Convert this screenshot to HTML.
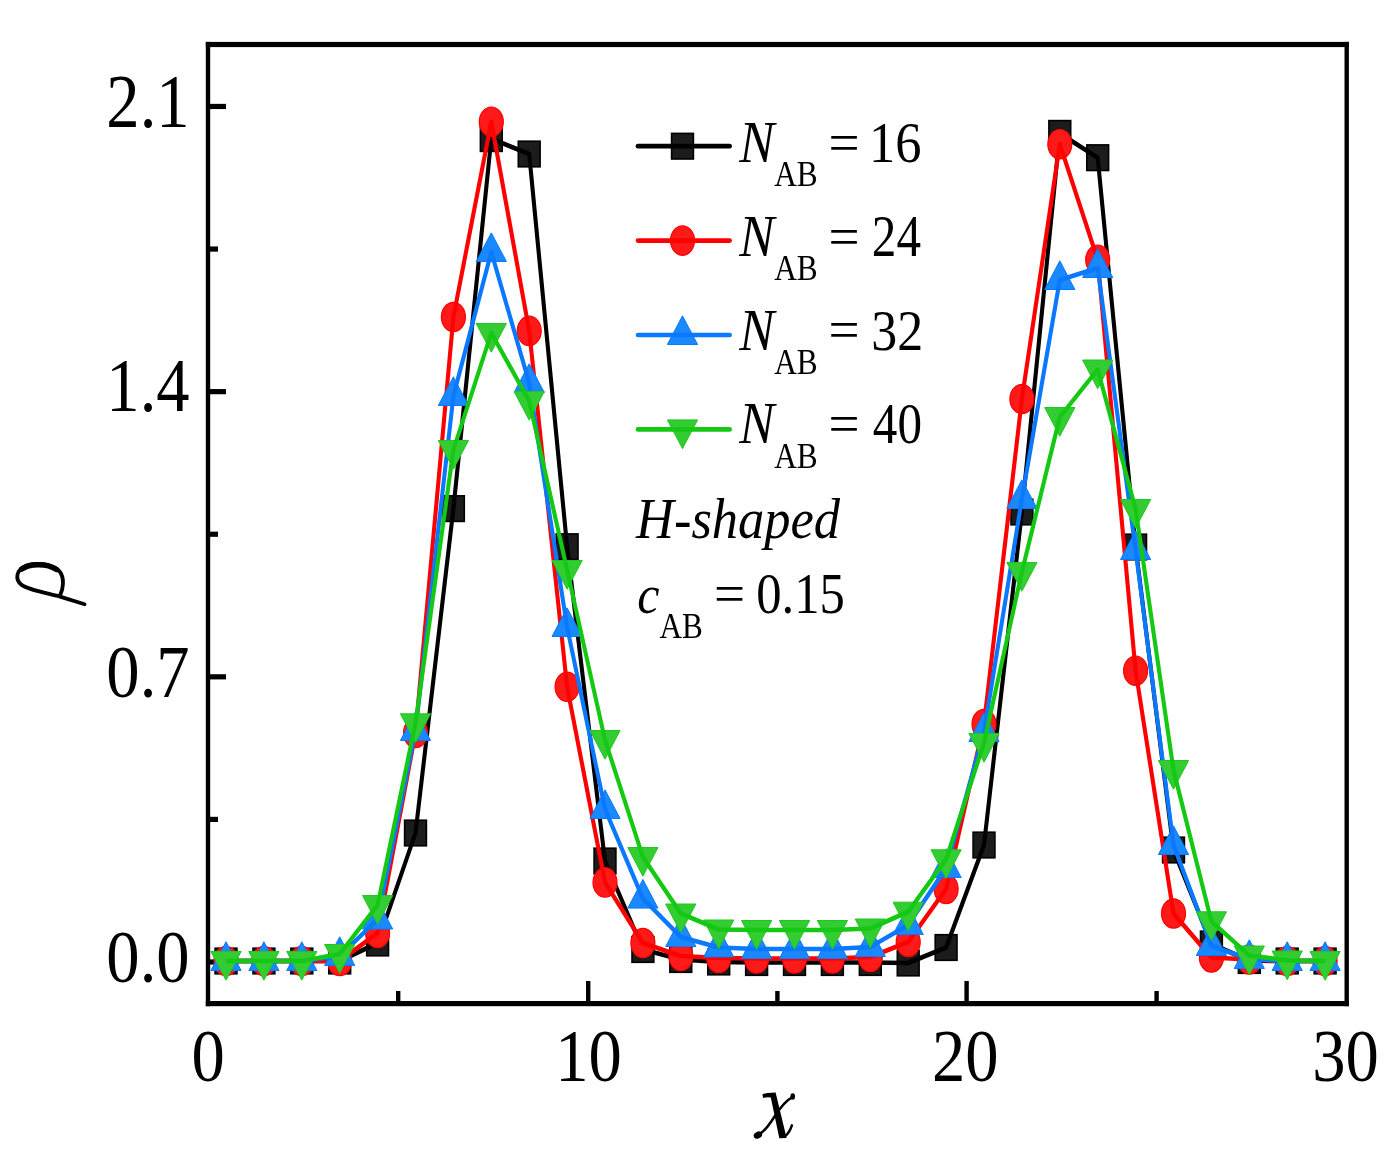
<!DOCTYPE html><html><head><meta charset="utf-8"><style>html,body{margin:0;padding:0;background:#fff;}svg{display:block;will-change:transform;}text{font-family:"Liberation Serif",serif;fill:#000;}</style></head><body>
<svg width="1390" height="1156" viewBox="0 0 1390 1156">
<rect width="1390" height="1156" fill="#fff"/>
<g fill="#000">
<rect x="205.8" y="41.9" width="1143.1" height="5.2"/>
<rect x="205.8" y="1001" width="1143.1" height="5.2"/>
<rect x="205.8" y="41.9" width="4.4" height="964.3"/>
<rect x="1344.5" y="41.9" width="4.4" height="964.3"/>
<rect x="208" y="959.4" width="18" height="5.2"/>
<rect x="208" y="674.22" width="18" height="5.2"/>
<rect x="208" y="389.04" width="18" height="5.2"/>
<rect x="208" y="103.86" width="18" height="5.2"/>
<rect x="208" y="816.81" width="10" height="5.2"/>
<rect x="208" y="531.63" width="10" height="5.2"/>
<rect x="208" y="246.45" width="10" height="5.2"/>
<rect x="586" y="981" width="4.4" height="22.6"/>
<rect x="964.4" y="981" width="4.4" height="22.6"/>
<rect x="396" y="991" width="4.4" height="12.6"/>
<rect x="775.2" y="991" width="4.4" height="12.6"/>
<rect x="1154.4" y="991" width="4.4" height="12.6"/>
</g>
<g>
<rect x="215.1" y="948.2" width="21.8" height="25.6" fill="#1c1c1c" stroke="#000000" stroke-width="1.6"/><rect x="253" y="948.2" width="21.8" height="25.6" fill="#1c1c1c" stroke="#000000" stroke-width="1.6"/><rect x="290.9" y="948.2" width="21.8" height="25.6" fill="#1c1c1c" stroke="#000000" stroke-width="1.6"/><rect x="328.8" y="948.2" width="21.8" height="25.6" fill="#1c1c1c" stroke="#000000" stroke-width="1.6"/><rect x="366.7" y="930.2" width="21.8" height="25.6" fill="#1c1c1c" stroke="#000000" stroke-width="1.6"/><rect x="404.6" y="820.2" width="21.8" height="25.6" fill="#1c1c1c" stroke="#000000" stroke-width="1.6"/><rect x="442.5" y="495.8" width="21.8" height="25.6" fill="#1c1c1c" stroke="#000000" stroke-width="1.6"/><rect x="480.4" y="125.8" width="21.8" height="25.6" fill="#1c1c1c" stroke="#000000" stroke-width="1.6"/><rect x="518.3" y="141.2" width="21.8" height="25.6" fill="#1c1c1c" stroke="#000000" stroke-width="1.6"/><rect x="556.2" y="533.9" width="21.8" height="25.6" fill="#1c1c1c" stroke="#000000" stroke-width="1.6"/><rect x="594.1" y="848.2" width="21.8" height="25.6" fill="#1c1c1c" stroke="#000000" stroke-width="1.6"/><rect x="632" y="936.7" width="21.8" height="25.6" fill="#1c1c1c" stroke="#000000" stroke-width="1.6"/><rect x="669.9" y="946.7" width="21.8" height="25.6" fill="#1c1c1c" stroke="#000000" stroke-width="1.6"/><rect x="707.8" y="949.2" width="21.8" height="25.6" fill="#1c1c1c" stroke="#000000" stroke-width="1.6"/><rect x="745.7" y="949.7" width="21.8" height="25.6" fill="#1c1c1c" stroke="#000000" stroke-width="1.6"/><rect x="783.6" y="949.7" width="21.8" height="25.6" fill="#1c1c1c" stroke="#000000" stroke-width="1.6"/><rect x="821.5" y="949.7" width="21.8" height="25.6" fill="#1c1c1c" stroke="#000000" stroke-width="1.6"/><rect x="859.4" y="949.7" width="21.8" height="25.6" fill="#1c1c1c" stroke="#000000" stroke-width="1.6"/><rect x="897.3" y="950.2" width="21.8" height="25.6" fill="#1c1c1c" stroke="#000000" stroke-width="1.6"/><rect x="935.2" y="934.7" width="21.8" height="25.6" fill="#1c1c1c" stroke="#000000" stroke-width="1.6"/><rect x="973.1" y="832.2" width="21.8" height="25.6" fill="#1c1c1c" stroke="#000000" stroke-width="1.6"/><rect x="1011" y="499.2" width="21.8" height="25.6" fill="#1c1c1c" stroke="#000000" stroke-width="1.6"/><rect x="1048.9" y="120.6" width="21.8" height="25.6" fill="#1c1c1c" stroke="#000000" stroke-width="1.6"/><rect x="1086.8" y="144.9" width="21.8" height="25.6" fill="#1c1c1c" stroke="#000000" stroke-width="1.6"/><rect x="1124.7" y="534.2" width="21.8" height="25.6" fill="#1c1c1c" stroke="#000000" stroke-width="1.6"/><rect x="1162.6" y="837.2" width="21.8" height="25.6" fill="#1c1c1c" stroke="#000000" stroke-width="1.6"/><rect x="1200.5" y="931.2" width="21.8" height="25.6" fill="#1c1c1c" stroke="#000000" stroke-width="1.6"/><rect x="1238.4" y="947.7" width="21.8" height="25.6" fill="#1c1c1c" stroke="#000000" stroke-width="1.6"/><rect x="1276.3" y="948.2" width="21.8" height="25.6" fill="#1c1c1c" stroke="#000000" stroke-width="1.6"/><rect x="1314.2" y="948.2" width="21.8" height="25.6" fill="#1c1c1c" stroke="#000000" stroke-width="1.6"/>
<polyline transform="scale(1 1.15)" points="226,835.65 263.9,835.65 301.8,835.65 339.7,835.65 377.6,820 415.5,724.35 453.4,442.26 491.3,120.52 529.2,133.91 567.1,475.39 605,748.7 642.9,825.65 680.8,834.35 718.7,836.52 756.6,836.96 794.5,836.96 832.4,836.96 870.3,836.96 908.2,837.39 946.1,823.91 984,734.78 1021.9,445.22 1059.8,116 1097.7,137.13 1135.6,475.65 1173.5,739.13 1211.4,820.87 1249.3,835.22 1287.2,835.65 1325.1,835.65" fill="none" stroke="#000000" stroke-width="4.1" stroke-linejoin="round"/>

<ellipse cx="226" cy="961" rx="12" ry="14.7" fill="#ff1a1a" stroke="#ff0000" stroke-width="1.2"/><ellipse cx="263.9" cy="961" rx="12" ry="14.7" fill="#ff1a1a" stroke="#ff0000" stroke-width="1.2"/><ellipse cx="301.8" cy="961" rx="12" ry="14.7" fill="#ff1a1a" stroke="#ff0000" stroke-width="1.2"/><ellipse cx="339.7" cy="961" rx="12" ry="14.7" fill="#ff1a1a" stroke="#ff0000" stroke-width="1.2"/><ellipse cx="377.6" cy="933" rx="12" ry="14.7" fill="#ff1a1a" stroke="#ff0000" stroke-width="1.2"/><ellipse cx="415.5" cy="733" rx="12" ry="14.7" fill="#ff1a1a" stroke="#ff0000" stroke-width="1.2"/><ellipse cx="453.4" cy="317" rx="12" ry="14.7" fill="#ff1a1a" stroke="#ff0000" stroke-width="1.2"/><ellipse cx="491.3" cy="121.7" rx="12" ry="14.7" fill="#ff1a1a" stroke="#ff0000" stroke-width="1.2"/><ellipse cx="529.2" cy="330.9" rx="12" ry="14.7" fill="#ff1a1a" stroke="#ff0000" stroke-width="1.2"/><ellipse cx="567.1" cy="686.8" rx="12" ry="14.7" fill="#ff1a1a" stroke="#ff0000" stroke-width="1.2"/><ellipse cx="605" cy="882.4" rx="12" ry="14.7" fill="#ff1a1a" stroke="#ff0000" stroke-width="1.2"/><ellipse cx="642.9" cy="943" rx="12" ry="14.7" fill="#ff1a1a" stroke="#ff0000" stroke-width="1.2"/><ellipse cx="680.8" cy="956" rx="12" ry="14.7" fill="#ff1a1a" stroke="#ff0000" stroke-width="1.2"/><ellipse cx="718.7" cy="958" rx="12" ry="14.7" fill="#ff1a1a" stroke="#ff0000" stroke-width="1.2"/><ellipse cx="756.6" cy="958.5" rx="12" ry="14.7" fill="#ff1a1a" stroke="#ff0000" stroke-width="1.2"/><ellipse cx="794.5" cy="958.5" rx="12" ry="14.7" fill="#ff1a1a" stroke="#ff0000" stroke-width="1.2"/><ellipse cx="832.4" cy="958.5" rx="12" ry="14.7" fill="#ff1a1a" stroke="#ff0000" stroke-width="1.2"/><ellipse cx="870.3" cy="957" rx="12" ry="14.7" fill="#ff1a1a" stroke="#ff0000" stroke-width="1.2"/><ellipse cx="908.2" cy="942" rx="12" ry="14.7" fill="#ff1a1a" stroke="#ff0000" stroke-width="1.2"/><ellipse cx="946.1" cy="889" rx="12" ry="14.7" fill="#ff1a1a" stroke="#ff0000" stroke-width="1.2"/><ellipse cx="984" cy="724" rx="12" ry="14.7" fill="#ff1a1a" stroke="#ff0000" stroke-width="1.2"/><ellipse cx="1021.9" cy="399" rx="12" ry="14.7" fill="#ff1a1a" stroke="#ff0000" stroke-width="1.2"/><ellipse cx="1059.8" cy="144.2" rx="12" ry="14.7" fill="#ff1a1a" stroke="#ff0000" stroke-width="1.2"/><ellipse cx="1097.7" cy="259.7" rx="12" ry="14.7" fill="#ff1a1a" stroke="#ff0000" stroke-width="1.2"/><ellipse cx="1135.6" cy="670.7" rx="12" ry="14.7" fill="#ff1a1a" stroke="#ff0000" stroke-width="1.2"/><ellipse cx="1173.5" cy="913.5" rx="12" ry="14.7" fill="#ff1a1a" stroke="#ff0000" stroke-width="1.2"/><ellipse cx="1211.4" cy="957.5" rx="12" ry="14.7" fill="#ff1a1a" stroke="#ff0000" stroke-width="1.2"/><ellipse cx="1249.3" cy="959.5" rx="12" ry="14.7" fill="#ff1a1a" stroke="#ff0000" stroke-width="1.2"/><ellipse cx="1287.2" cy="961" rx="12" ry="14.7" fill="#ff1a1a" stroke="#ff0000" stroke-width="1.2"/><ellipse cx="1325.1" cy="961" rx="12" ry="14.7" fill="#ff1a1a" stroke="#ff0000" stroke-width="1.2"/>
<polyline transform="scale(1 1.15)" points="226,835.65 263.9,835.65 301.8,835.65 339.7,835.65 377.6,811.3 415.5,637.39 453.4,275.65 491.3,105.83 529.2,287.74 567.1,597.22 605,767.3 642.9,820 680.8,831.3 718.7,833.04 756.6,833.48 794.5,833.48 832.4,833.48 870.3,832.17 908.2,819.13 946.1,773.04 984,629.57 1021.9,346.96 1059.8,125.39 1097.7,225.83 1135.6,583.22 1173.5,794.35 1211.4,832.61 1249.3,834.35 1287.2,835.65 1325.1,835.65" fill="none" stroke="#ff0000" stroke-width="4.1" stroke-linejoin="round"/>

<path d="M226 941.8L241.1 970.5L210.9 970.5Z" fill="#1a88ff" stroke="#0a78ff" stroke-width="1" stroke-linejoin="miter"/><path d="M263.9 941.8L279 970.5L248.8 970.5Z" fill="#1a88ff" stroke="#0a78ff" stroke-width="1" stroke-linejoin="miter"/><path d="M301.8 941.8L316.9 970.5L286.7 970.5Z" fill="#1a88ff" stroke="#0a78ff" stroke-width="1" stroke-linejoin="miter"/><path d="M339.7 936.8L354.8 965.5L324.6 965.5Z" fill="#1a88ff" stroke="#0a78ff" stroke-width="1" stroke-linejoin="miter"/><path d="M377.6 900.3L392.7 929L362.5 929Z" fill="#1a88ff" stroke="#0a78ff" stroke-width="1" stroke-linejoin="miter"/><path d="M415.5 711.8L430.6 740.5L400.4 740.5Z" fill="#1a88ff" stroke="#0a78ff" stroke-width="1" stroke-linejoin="miter"/><path d="M453.4 376.8L468.5 405.5L438.3 405.5Z" fill="#1a88ff" stroke="#0a78ff" stroke-width="1" stroke-linejoin="miter"/><path d="M491.3 232.8L506.4 261.5L476.2 261.5Z" fill="#1a88ff" stroke="#0a78ff" stroke-width="1" stroke-linejoin="miter"/><path d="M529.2 363.8L544.3 392.5L514.1 392.5Z" fill="#1a88ff" stroke="#0a78ff" stroke-width="1" stroke-linejoin="miter"/><path d="M567.1 607.8L582.2 636.5L552 636.5Z" fill="#1a88ff" stroke="#0a78ff" stroke-width="1" stroke-linejoin="miter"/><path d="M605 789.8L620.1 818.5L589.9 818.5Z" fill="#1a88ff" stroke="#0a78ff" stroke-width="1" stroke-linejoin="miter"/><path d="M642.9 879.4L658 908.1L627.8 908.1Z" fill="#1a88ff" stroke="#0a78ff" stroke-width="1" stroke-linejoin="miter"/><path d="M680.8 917.8L695.9 946.5L665.7 946.5Z" fill="#1a88ff" stroke="#0a78ff" stroke-width="1" stroke-linejoin="miter"/><path d="M718.7 928.3L733.8 957L703.6 957Z" fill="#1a88ff" stroke="#0a78ff" stroke-width="1" stroke-linejoin="miter"/><path d="M756.6 929.8L771.7 958.5L741.5 958.5Z" fill="#1a88ff" stroke="#0a78ff" stroke-width="1" stroke-linejoin="miter"/><path d="M794.5 929.8L809.6 958.5L779.4 958.5Z" fill="#1a88ff" stroke="#0a78ff" stroke-width="1" stroke-linejoin="miter"/><path d="M832.4 929.8L847.5 958.5L817.3 958.5Z" fill="#1a88ff" stroke="#0a78ff" stroke-width="1" stroke-linejoin="miter"/><path d="M870.3 927.8L885.4 956.5L855.2 956.5Z" fill="#1a88ff" stroke="#0a78ff" stroke-width="1" stroke-linejoin="miter"/><path d="M908.2 905.8L923.3 934.5L893.1 934.5Z" fill="#1a88ff" stroke="#0a78ff" stroke-width="1" stroke-linejoin="miter"/><path d="M946.1 848.8L961.2 877.5L931 877.5Z" fill="#1a88ff" stroke="#0a78ff" stroke-width="1" stroke-linejoin="miter"/><path d="M984 712.8L999.1 741.5L968.9 741.5Z" fill="#1a88ff" stroke="#0a78ff" stroke-width="1" stroke-linejoin="miter"/><path d="M1021.9 479.8L1037 508.5L1006.8 508.5Z" fill="#1a88ff" stroke="#0a78ff" stroke-width="1" stroke-linejoin="miter"/><path d="M1059.8 260.8L1074.9 289.5L1044.7 289.5Z" fill="#1a88ff" stroke="#0a78ff" stroke-width="1" stroke-linejoin="miter"/><path d="M1097.7 248.8L1112.8 277.5L1082.6 277.5Z" fill="#1a88ff" stroke="#0a78ff" stroke-width="1" stroke-linejoin="miter"/><path d="M1135.6 530.8L1150.7 559.5L1120.5 559.5Z" fill="#1a88ff" stroke="#0a78ff" stroke-width="1" stroke-linejoin="miter"/><path d="M1173.5 825.8L1188.6 854.5L1158.4 854.5Z" fill="#1a88ff" stroke="#0a78ff" stroke-width="1" stroke-linejoin="miter"/><path d="M1211.4 926.8L1226.5 955.5L1196.3 955.5Z" fill="#1a88ff" stroke="#0a78ff" stroke-width="1" stroke-linejoin="miter"/><path d="M1249.3 939.8L1264.4 968.5L1234.2 968.5Z" fill="#1a88ff" stroke="#0a78ff" stroke-width="1" stroke-linejoin="miter"/><path d="M1287.2 941.8L1302.3 970.5L1272.1 970.5Z" fill="#1a88ff" stroke="#0a78ff" stroke-width="1" stroke-linejoin="miter"/><path d="M1325.1 941.8L1340.2 970.5L1310 970.5Z" fill="#1a88ff" stroke="#0a78ff" stroke-width="1" stroke-linejoin="miter"/>
<polyline transform="scale(1 1.15)" points="226,835.65 263.9,835.65 301.8,835.65 339.7,831.3 377.6,799.57 415.5,635.65 453.4,344.35 491.3,219.13 529.2,333.04 567.1,545.22 605,703.48 642.9,781.39 680.8,814.78 718.7,823.91 756.6,825.22 794.5,825.22 832.4,825.22 870.3,823.48 908.2,804.35 946.1,754.78 984,636.52 1021.9,433.91 1059.8,243.48 1097.7,233.04 1135.6,478.26 1173.5,734.78 1211.4,822.61 1249.3,833.91 1287.2,835.65 1325.1,835.65" fill="none" stroke="#0a78ff" stroke-width="4.1" stroke-linejoin="round"/>

<path d="M210.9 951.5L241.1 951.5L226 980.2Z" fill="#33cc33" stroke="#1ec81e" stroke-width="1" stroke-linejoin="miter"/><path d="M248.8 951.5L279 951.5L263.9 980.2Z" fill="#33cc33" stroke="#1ec81e" stroke-width="1" stroke-linejoin="miter"/><path d="M286.7 951.5L316.9 951.5L301.8 980.2Z" fill="#33cc33" stroke="#1ec81e" stroke-width="1" stroke-linejoin="miter"/><path d="M324.6 944.5L354.8 944.5L339.7 973.2Z" fill="#33cc33" stroke="#1ec81e" stroke-width="1" stroke-linejoin="miter"/><path d="M362.5 895.5L392.7 895.5L377.6 924.2Z" fill="#33cc33" stroke="#1ec81e" stroke-width="1" stroke-linejoin="miter"/><path d="M400.4 713.8L430.6 713.8L415.5 742.5Z" fill="#33cc33" stroke="#1ec81e" stroke-width="1" stroke-linejoin="miter"/><path d="M438.3 440.5L468.5 440.5L453.4 469.2Z" fill="#33cc33" stroke="#1ec81e" stroke-width="1" stroke-linejoin="miter"/><path d="M476.2 323.5L506.4 323.5L491.3 352.2Z" fill="#33cc33" stroke="#1ec81e" stroke-width="1" stroke-linejoin="miter"/><path d="M514.1 391.5L544.3 391.5L529.2 420.2Z" fill="#33cc33" stroke="#1ec81e" stroke-width="1" stroke-linejoin="miter"/><path d="M552 560.5L582.2 560.5L567.1 589.2Z" fill="#33cc33" stroke="#1ec81e" stroke-width="1" stroke-linejoin="miter"/><path d="M589.9 730.5L620.1 730.5L605 759.2Z" fill="#33cc33" stroke="#1ec81e" stroke-width="1" stroke-linejoin="miter"/><path d="M627.8 847.5L658 847.5L642.9 876.2Z" fill="#33cc33" stroke="#1ec81e" stroke-width="1" stroke-linejoin="miter"/><path d="M665.7 904L695.9 904L680.8 932.7Z" fill="#33cc33" stroke="#1ec81e" stroke-width="1" stroke-linejoin="miter"/><path d="M703.6 920L733.8 920L718.7 948.7Z" fill="#33cc33" stroke="#1ec81e" stroke-width="1" stroke-linejoin="miter"/><path d="M741.5 920.5L771.7 920.5L756.6 949.2Z" fill="#33cc33" stroke="#1ec81e" stroke-width="1" stroke-linejoin="miter"/><path d="M779.4 920.5L809.6 920.5L794.5 949.2Z" fill="#33cc33" stroke="#1ec81e" stroke-width="1" stroke-linejoin="miter"/><path d="M817.3 920.5L847.5 920.5L832.4 949.2Z" fill="#33cc33" stroke="#1ec81e" stroke-width="1" stroke-linejoin="miter"/><path d="M855.2 919L885.4 919L870.3 947.7Z" fill="#33cc33" stroke="#1ec81e" stroke-width="1" stroke-linejoin="miter"/><path d="M893.1 902.2L923.3 902.2L908.2 930.9Z" fill="#33cc33" stroke="#1ec81e" stroke-width="1" stroke-linejoin="miter"/><path d="M931 849.8L961.2 849.8L946.1 878.5Z" fill="#33cc33" stroke="#1ec81e" stroke-width="1" stroke-linejoin="miter"/><path d="M968.9 733.5L999.1 733.5L984 762.2Z" fill="#33cc33" stroke="#1ec81e" stroke-width="1" stroke-linejoin="miter"/><path d="M1006.8 562.5L1037 562.5L1021.9 591.2Z" fill="#33cc33" stroke="#1ec81e" stroke-width="1" stroke-linejoin="miter"/><path d="M1044.7 407.5L1074.9 407.5L1059.8 436.2Z" fill="#33cc33" stroke="#1ec81e" stroke-width="1" stroke-linejoin="miter"/><path d="M1082.6 360L1112.8 360L1097.7 388.7Z" fill="#33cc33" stroke="#1ec81e" stroke-width="1" stroke-linejoin="miter"/><path d="M1120.5 499.5L1150.7 499.5L1135.6 528.2Z" fill="#33cc33" stroke="#1ec81e" stroke-width="1" stroke-linejoin="miter"/><path d="M1158.4 760.5L1188.6 760.5L1173.5 789.2Z" fill="#33cc33" stroke="#1ec81e" stroke-width="1" stroke-linejoin="miter"/><path d="M1196.3 911.8L1226.5 911.8L1211.4 940.5Z" fill="#33cc33" stroke="#1ec81e" stroke-width="1" stroke-linejoin="miter"/><path d="M1234.2 946L1264.4 946L1249.3 974.7Z" fill="#33cc33" stroke="#1ec81e" stroke-width="1" stroke-linejoin="miter"/><path d="M1272.1 951L1302.3 951L1287.2 979.7Z" fill="#33cc33" stroke="#1ec81e" stroke-width="1" stroke-linejoin="miter"/><path d="M1310 951.5L1340.2 951.5L1325.1 980.2Z" fill="#33cc33" stroke="#1ec81e" stroke-width="1" stroke-linejoin="miter"/>
<polyline transform="scale(1 1.15)" points="226,835.65 263.9,835.65 301.8,835.65 339.7,829.57 377.6,786.96 415.5,628.96 453.4,391.3 491.3,289.57 529.2,348.7 567.1,495.65 605,643.48 642.9,745.22 680.8,794.35 718.7,808.26 756.6,808.7 794.5,808.7 832.4,808.7 870.3,807.39 908.2,792.78 946.1,747.22 984,646.09 1021.9,497.39 1059.8,362.61 1097.7,321.3 1135.6,442.61 1173.5,669.57 1211.4,801.13 1249.3,830.87 1287.2,835.22 1325.1,835.65" fill="none" stroke="#14c814" stroke-width="4.1" stroke-linejoin="round"/>

</g>
<g font-size="100">
<text transform="matrix(0.666 0 0 0.745 189.6 982.3)" text-anchor="end">0.0</text>
<text transform="matrix(0.666 0 0 0.745 189.6 697.12)" text-anchor="end">0.7</text>
<text transform="matrix(0.666 0 0 0.7673 189.6 411.44)" text-anchor="end">1.4</text>
<text transform="matrix(0.666 0 0 0.7673 189.6 126.96)" text-anchor="end">2.1</text>
<text transform="matrix(0.666 0 0 0.745 208.2 1081.4)" text-anchor="middle">0</text>
<text transform="matrix(0.666 0 0 0.745 588.5 1081.4)" text-anchor="middle">10</text>
<text transform="matrix(0.666 0 0 0.745 965.3 1081.4)" text-anchor="middle">20</text>
<text transform="matrix(0.666 0 0 0.745 1345.5 1081.4)" text-anchor="middle">30</text>
</g>
<rect x="671.6" y="133.4" width="21.8" height="25.6" fill="#1c1c1c" stroke="#000000" stroke-width="1.6"/>
<line x1="638" y1="146.2" x2="729.6" y2="146.2" stroke="#000000" stroke-width="4.71" stroke-linecap="round"/>
<ellipse cx="682.5" cy="240.6" rx="12" ry="14.7" fill="#ff1a1a" stroke="#ff0000" stroke-width="1.2"/>
<line x1="638" y1="240.6" x2="729.6" y2="240.6" stroke="#ff0000" stroke-width="4.71" stroke-linecap="round"/>
<path d="M682.5 315.8L697.6 344.5L667.4 344.5Z" fill="#1a88ff" stroke="#0a78ff" stroke-width="1" stroke-linejoin="miter"/>
<line x1="638" y1="335" x2="729.6" y2="335" stroke="#0a78ff" stroke-width="4.71" stroke-linecap="round"/>
<path d="M667.4 419.9L697.6 419.9L682.5 448.6Z" fill="#33cc33" stroke="#1ec81e" stroke-width="1" stroke-linejoin="miter"/>
<line x1="638" y1="429.4" x2="729.6" y2="429.4" stroke="#14c814" stroke-width="4.71" stroke-linecap="round"/>
<text transform="matrix(0.5264 0 0 0.5815 739.13 162.2)" font-size="100" font-style="italic">N</text>
<text transform="matrix(0.3135 0 0 0.3591 774.19 186.4)" font-size="100">AB</text>
<text transform="matrix(0.5511 0 0 0.552 828.44 161.09)" font-size="100">=</text>
<text transform="matrix(0.525 0 0 0.5632 869.07 161.57)" font-size="100">16</text>
<text transform="matrix(0.5264 0 0 0.5815 739.13 255.9)" font-size="100" font-style="italic">N</text>
<text transform="matrix(0.3135 0 0 0.3591 774.19 280.1)" font-size="100">AB</text>
<text transform="matrix(0.5511 0 0 0.552 828.44 254.79)" font-size="100">=</text>
<text transform="matrix(0.4915 0 0 0.5892 871.83 256.4)" font-size="100">24</text>
<text transform="matrix(0.5264 0 0 0.5815 739.13 349.6)" font-size="100" font-style="italic">N</text>
<text transform="matrix(0.3135 0 0 0.3591 774.19 373.8)" font-size="100">AB</text>
<text transform="matrix(0.5511 0 0 0.552 828.44 348.49)" font-size="100">=</text>
<text transform="matrix(0.5191 0 0 0.5803 871.2 349.52)" font-size="100">32</text>
<text transform="matrix(0.5264 0 0 0.5815 739.13 443.3)" font-size="100" font-style="italic">N</text>
<text transform="matrix(0.3135 0 0 0.3591 774.19 467.5)" font-size="100">AB</text>
<text transform="matrix(0.5511 0 0 0.552 828.44 442.19)" font-size="100">=</text>
<text transform="matrix(0.4915 0 0 0.5716 872.82 442.66)" font-size="100">40</text>
<text transform="matrix(0.5249 0 0 0.5644 636.02 538.15)" font-size="100" font-style="italic">H-shaped</text>
<text transform="matrix(0.5 0 0 0.5437 637.3 612.76)" font-size="100" font-style="italic">c</text>
<text transform="matrix(0.312 0 0 0.3606 659.39 637.8)" font-size="100">AB</text>
<text transform="matrix(0.5511 0 0 0.544 713.94 612.02)" font-size="100">=</text>
<text transform="matrix(0.5066 0 0 0.5721 756.17 612.76)" font-size="100">0.15</text>
<g fill="#000">
<path d="M762.4 1094.2 Q767 1092.7 775.6 1092.6 L786.6 1137.9 L779.3 1138.3 L770.8 1097.4 Q766.5 1096.7 763.1 1097.9 Z"/>
<path d="M793 1096.8 C786 1100.2 779.2 1109 774.2 1117 C769.2 1125 763.6 1132.8 757.6 1134.8 M784.8 1136.6 Q789.2 1133.2 791.9 1125.4" fill="none" stroke="#000" stroke-width="2.5" stroke-linecap="round"/>
<ellipse cx="792.7" cy="1096.5" rx="2.3" ry="3.2"/>
<ellipse cx="757.9" cy="1135.1" rx="4.4" ry="3.3" transform="rotate(-28 757.9 1135.1)"/>
</g>
<g fill="none" stroke="#000" stroke-linecap="round" stroke-linejoin="round">
<path d="M84.6 604.2 L60 596.6 C45 592.6 28.5 590 21.2 584.6 C14.8 579.4 16.3 569.6 25.5 565.9 C37.5 561.6 55 564.6 60.6 572.8 C64.2 578.6 63.6 588.4 60 595.6" stroke-width="3.8"/>
<path d="M21.8 569.2 C29 563.6 46.5 562.8 56.5 569.4" stroke-width="5.4"/>
</g>
</svg></body></html>
